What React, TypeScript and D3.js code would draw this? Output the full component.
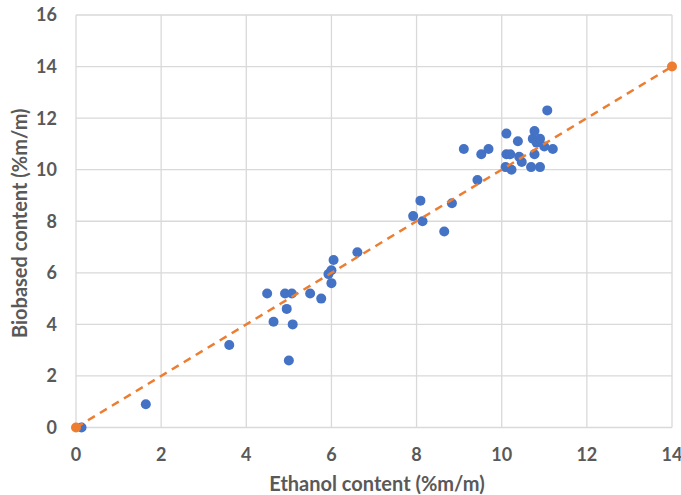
import { useEffect, useRef } from 'react'
import * as d3 from 'd3'

// Measured samples (blue)
const ethanol = [
  0.13, 1.64, 3.6, 4.49, 4.64, 4.91, 4.95, 5.0, 5.07, 5.09, 5.5, 5.76, 5.93, 6.0, 6.0, 6.05, 6.61,
  7.92, 8.09, 8.14, 8.65, 8.83, 9.11, 9.43, 9.52, 9.69, 10.09, 10.11, 10.11, 10.2, 10.23, 10.38,
  10.41, 10.47, 10.69, 10.73, 10.77, 10.77, 10.82, 10.9, 10.9, 11.0, 11.07, 11.2,
]
const biobased = [
  0, 0.9, 3.2, 5.2, 4.1, 5.2, 4.6, 2.6, 5.2, 4.0, 5.2, 5.0, 5.95, 6.1, 5.6, 6.5, 6.8,
  8.2, 8.8, 8.0, 7.6, 8.7, 10.8, 9.6, 10.6, 10.8, 10.1, 11.4, 10.6, 10.6, 10.0, 11.1,
  10.5, 10.3, 10.1, 11.2, 11.5, 10.6, 11.05, 11.2, 10.1, 10.9, 12.3, 10.8,
]

// 1:1 reference line (orange)
const refX = [0, 14]
const refY = [0, 14]

const xTicks = [0, 2, 4, 6, 8, 10, 12, 14]
const yTicks = [0, 2, 4, 6, 8, 10, 12, 14, 16]

const xTitle = 'Ethanol content (%m/m)'
const yTitle = 'Biobased content (%m/m)'

const W = 681
const H = 495

export default function App() {
  const svgRef = useRef<SVGSVGElement>(null)

  useEffect(() => {
    if (!svgRef.current) return
    document.body.style.margin = '0'

    const margin = { top: 15, right: 9, bottom: 67.5, left: 76 }
    const width = W - margin.left - margin.right
    const height = H - margin.top - margin.bottom

    const root = d3.select(svgRef.current)
    root.selectAll('*').remove()

    root.append('rect').attr('width', W).attr('height', H).attr('fill', 'white')

    const svg = root.append('g').attr('transform', `translate(${margin.left},${margin.top})`)

    const x = d3.scaleLinear().domain([0, 14]).range([0, width])
    const y = d3.scaleLinear().domain([0, 16]).range([height, 0])

    const font = 'Lato, "Open Sans", sans-serif'
    const grey = '#595959'

    // grid
    svg
      .append('g')
      .selectAll('line')
      .data(yTicks)
      .join('line')
      .attr('x1', 0)
      .attr('x2', width)
      .attr('y1', (d) => y(d))
      .attr('y2', (d) => y(d))
      .attr('stroke', '#d9d9d9')
      .attr('stroke-width', 1.3)

    svg
      .append('g')
      .selectAll('line')
      .data(xTicks)
      .join('line')
      .attr('x1', (d) => x(d))
      .attr('x2', (d) => x(d))
      .attr('y1', 0)
      .attr('y2', height)
      .attr('stroke', '#d9d9d9')
      .attr('stroke-width', 1.3)

    // tick labels
    svg
      .append('g')
      .selectAll('text')
      .data(xTicks)
      .join('text')
      .attr('x', (d) => x(d))
      .attr('y', height + 33.5)
      .attr('text-anchor', 'middle')
      .attr('font-family', font)
      .attr('font-weight', 700)
      .attr('font-size', 18)
      .attr('fill', grey)
      .text((d) => d)

    svg
      .append('g')
      .selectAll('text')
      .data(yTicks)
      .join('text')
      .attr('x', -19)
      .attr('y', (d) => y(d))
      .attr('dy', '0.36em')
      .attr('text-anchor', 'end')
      .attr('font-family', font)
      .attr('font-weight', 700)
      .attr('font-size', 18)
      .attr('fill', grey)
      .text((d) => d)

    // axis titles
    svg
      .append('text')
      .attr('x', width / 2 + 3)
      .attr('y', height + 63)
      .attr('text-anchor', 'middle')
      .attr('font-family', font)
      .attr('font-weight', 700)
      .attr('font-size', 20)
      .attr('fill', grey)
      .text(xTitle)

    svg
      .append('text')
      .attr('transform', 'rotate(-90)')
      .attr('x', -height / 2 - 2)
      .attr('y', -49)
      .attr('text-anchor', 'middle')
      .attr('font-family', font)
      .attr('font-weight', 700)
      .attr('font-size', 20)
      .attr('fill', grey)
      .text(yTitle)

    // blue samples
    svg
      .append('g')
      .selectAll('circle')
      .data(d3.range(ethanol.length))
      .join('circle')
      .attr('cx', (i) => x(ethanol[i]))
      .attr('cy', (i) => y(biobased[i]))
      .attr('r', 5)
      .attr('fill', '#4472c4')

    // orange reference line
    const line = d3
      .line<number>()
      .x((i) => x(refX[i]))
      .y((i) => y(refY[i]))

    svg
      .append('path')
      .datum(d3.range(refX.length))
      .attr('fill', 'none')
      .attr('stroke', '#ed7d31')
      .attr('stroke-width', 2.5)
      .attr('stroke-dasharray', '8,6')
      .attr('d', line)

    svg
      .append('g')
      .selectAll('circle')
      .data(d3.range(refX.length))
      .join('circle')
      .attr('cx', (i) => x(refX[i]))
      .attr('cy', (i) => y(refY[i]))
      .attr('r', 5)
      .attr('fill', '#ed7d31')
  }, [])

  return (
    <div style={{ position: 'absolute', left: 0, top: 0 }}>
      <svg ref={svgRef} width={W} height={H} style={{ display: 'block' }} />
    </div>
  )
}
